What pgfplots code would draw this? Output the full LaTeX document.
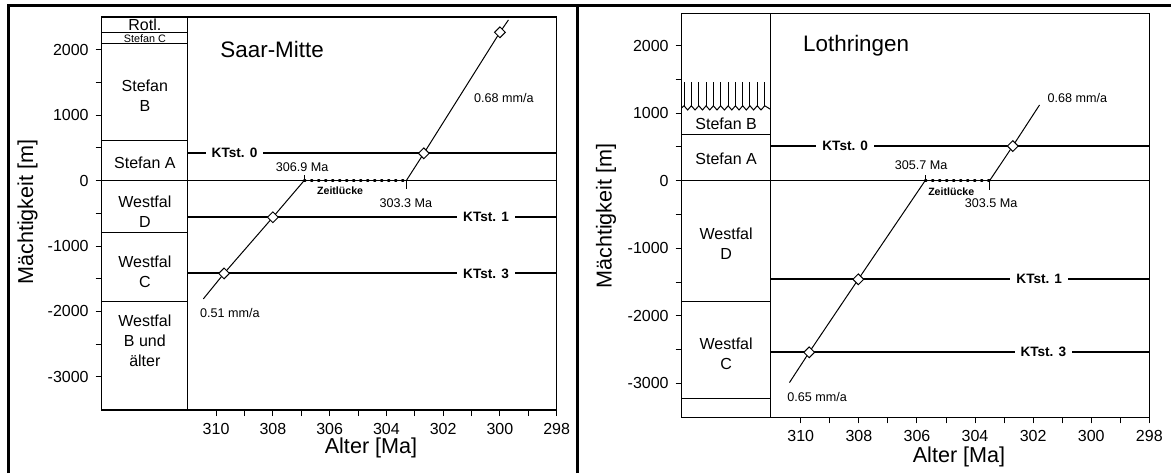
\documentclass[border=0pt]{standalone}
\usepackage{fontspec}
\setmainfont{Liberation Sans}
\usepackage{pgfplots}
\pgfplotsset{compat=1.18}
\begin{document}
\begin{tikzpicture}
\useasboundingbox (0,0) rectangle (585.5pt,236.5pt);
\tikzset{
  lab/.style={font=\fontsize{8}{10}\selectfont, align=center, inner sep=0pt},
  kt/.style={font=\bfseries\fontsize{6.8}{8}\selectfont, fill=white, inner xsep=3pt, inner ysep=1pt},
  sm/.style={font=\fontsize{6.3}{7}\selectfont, inner sep=0pt},
  zl/.style={font=\bfseries\fontsize{5.3}{6}\selectfont, inner sep=0pt},
  ttl/.style={font=\fontsize{11.2}{13}\selectfont, inner sep=0pt, anchor=west},
}
\pgfplotsset{
  geoaxis/.style={
    scale only axis, anchor=south west,
    x dir=reverse, xmin=298,
    xtick={310,308,306,304,302,300,298}, xticklabels={310,308,306,304,302,300,298},
    minor xtick={309,307,305,303,301,299},
    ytick={-3000,-2000,-1000,0,1000,2000}, yticklabels={-3000,-2000,-1000,0,1000,2000},
    minor ytick={-2500,-1500,-500,500,1500},
    tick align=outside, tick pos=left,
    major tick length=3pt, minor tick length=3pt,
    every tick/.style={black, line width=0.5pt},
    axis line style={line width=0.6pt},
    ticklabel style={font=\fontsize{8}{9}\selectfont},
    clip=false, unbounded coords=jump,
  },
  thinl/.style={black, line width=0.5pt, mark=none},
  ktl/.style={black, line width=1pt, mark=none},
  diam/.style={only marks, mark=square*, mark size=1.9pt, mark options={rotate=45, fill=white, draw=black, line width=0.5pt}},
  dots/.style={black, line width=1.5pt, line cap=round, dash pattern=on 0.7pt off 2.8pt, mark=none},
}
% outer frames
\draw[line width=1.5pt] (4.25pt,0) -- (4.25pt,234pt) -- (585.5pt,234pt);
\draw[line width=1.5pt] (288.75pt,0) -- (288.75pt,234pt);

% ---------------- Saar-Mitte ----------------
\begin{axis}[geoaxis, at={(50.85pt,31.5pt)}, width=227.5pt, height=196.5pt,
  xmax=314.03, ymin=-3510, ymax=2505]
% column
\addplot[thinl] coordinates {(311,-3510)(311,2505)};
\addplot[thinl] coordinates {(314.03,2271)(311,2271) (nan,nan) (314.03,2092)(311,2092) (nan,nan) (314.03,612)(311,612) (nan,nan) (314.03,-793)(311,-793) (nan,nan) (314.03,-1852)(311,-1852)};
\addplot[thinl] coordinates {(314.03,0)(298,0)};
% KTst horizons
\addplot[ktl] coordinates {(311,419)(298,419)};
\addplot[ktl] coordinates {(311,-560)(298,-560)};
\addplot[ktl] coordinates {(311,-1420)(298,-1420)};
% subsidence lines
\addplot[thinl] coordinates {(310.45,-1810)(309.72,-1420)(308.0,-560)(306.9,0)};
\addplot[thinl] coordinates {(303.3,0)(302.68,419)(300.0,2271)(299.7,2460)};
\addplot[thinl] coordinates {(306.9,0)(306.9,90)};
\addplot[thinl] coordinates {(303.3,0)(303.3,-130)};
\addplot[dots] coordinates {(306.9,0)(303.3,0)};
\addplot[diam] coordinates {(309.72,-1420)(308.0,-560)(302.68,419)(300.0,2271)};
% labels
\node[lab] at (312.51,2388) {Rotl.};
\node[lab, font=\fontsize{5.4}{6}\selectfont] at (312.51,2181) {Stefan C};
\node[lab] at (312.51,1296) {Stefan\\B};
\node[lab] at (312.51,275) {Stefan A};
\node[lab] at (312.51,-479) {Westfal\\D};
\node[lab] at (312.51,-1397) {Westfal\\C};
\node[lab] at (312.51,-2453) {Westfal\\B und\\älter};
\node[kt] at (309.35,419) {KTst. 0};
\node[kt] at (300.49,-560) {KTst. 1};
\node[kt] at (300.49,-1420) {KTst. 3};
\node[ttl] at (309.86,2000) {Saar-Mitte};
\node[sm] at (306.97,214) {306.9 Ma};
\node[sm] at (303.31,-341) {303.3 Ma};
\node[zl] at (305.63,-153) {Zeitlücke};
\node[sm] at (299.86,1270) {0.68 mm/a};
\node[sm] at (309.51,-2029) {0.51 mm/a};
\end{axis}

% ---------------- Lothringen ----------------
\begin{axis}[geoaxis, at={(340.85pt,27.85pt)}, width=233.8pt, height=202pt,
  xmax=314.10, ymin=-3504, ymax=2480]
% column
\addplot[thinl] coordinates {(311.05,-3504)(311.05,2480)};
\addplot[thinl] coordinates {(314.10,687)(311.05,687) (nan,nan) (314.10,-1782)(311.05,-1782) (nan,nan) (314.10,-3223)(311.05,-3223)};
\addplot[thinl] coordinates {(314.10,0)(298,0)};
% erosion surface with hatching
\addplot[thinl] coordinates {(314.10,1080)(314.02,1110)(313.895,1048)(313.77,1110)(313.64,1048)(313.51,1110)(313.385,1048)(313.26,1110)(313.135,1048)(313.01,1110)(312.885,1048)(312.76,1110)(312.63,1048)(312.50,1110)(312.375,1048)(312.25,1110)(312.125,1048)(312.00,1110)(311.875,1048)(311.75,1110)(311.625,1048)(311.50,1110)(311.37,1048)(311.24,1110)(311.05,1060)};
\addplot[thinl] coordinates {(314.02,1110)(314.02,1467) (nan,nan) (313.77,1110)(313.77,1467) (nan,nan) (313.51,1110)(313.51,1467) (nan,nan) (313.26,1110)(313.26,1467) (nan,nan) (313.01,1110)(313.01,1467) (nan,nan) (312.76,1110)(312.76,1467) (nan,nan) (312.50,1110)(312.50,1467) (nan,nan) (312.25,1110)(312.25,1467) (nan,nan) (312.00,1110)(312.00,1467) (nan,nan) (311.75,1110)(311.75,1467) (nan,nan) (311.50,1110)(311.50,1467) (nan,nan) (311.24,1110)(311.24,1467)};
% KTst horizons
\addplot[ktl] coordinates {(311.05,514)(298,514)};
\addplot[ktl] coordinates {(311.05,-1460)(298,-1460)};
\addplot[ktl] coordinates {(311.05,-2541)(298,-2541)};
% subsidence lines
\addplot[thinl] coordinates {(310.39,-2990)(309.71,-2541)(308.02,-1460)(305.72,0)};
\addplot[thinl] coordinates {(303.5,0)(302.70,514)(301.78,1122)};
\addplot[thinl] coordinates {(305.72,0)(305.72,90)};
\addplot[thinl] coordinates {(303.5,0)(303.5,-130)};
\addplot[dots] coordinates {(305.72,0)(303.5,0)};
\addplot[diam] coordinates {(309.71,-2541)(308.02,-1460)(302.70,514)};
% labels
\node[lab] at (312.57,840) {Stefan B};
\node[lab] at (312.57,332) {Stefan A};
\node[lab] at (312.57,-937) {Westfal\\D};
\node[lab] at (312.57,-2566) {Westfal\\C};
\node[kt] at (308.47,514) {KTst. 0};
\node[kt] at (301.79,-1460) {KTst. 1};
\node[kt] at (301.65,-2541) {KTst. 3};
\node[ttl] at (309.93,2000) {Lothringen};
\node[sm] at (305.86,233) {305.7 Ma};
\node[sm] at (303.45,-330) {303.5 Ma};
\node[zl] at (304.82,-163) {Zeitlücke};
\node[sm] at (300.48,1230) {0.68 mm/a};
\node[sm] at (309.44,-3207) {0.65 mm/a};
\end{axis}

% axis titles
\node[rotate=90, font=\fontsize{10.8}{12}\selectfont] at (13.75pt,130.5pt) {Mächtigkeit [m]};
\node[rotate=90, font=\fontsize{10.8}{12}\selectfont] at (303pt,128.5pt) {Mächtigkeit [m]};
\node[font=\fontsize{10.8}{12}\selectfont] at (185.5pt,12.5pt) {Alter [Ma]};
\node[font=\fontsize{10.8}{12}\selectfont] at (479.5pt,8.2pt) {Alter [Ma]};
\end{tikzpicture}
\end{document}
